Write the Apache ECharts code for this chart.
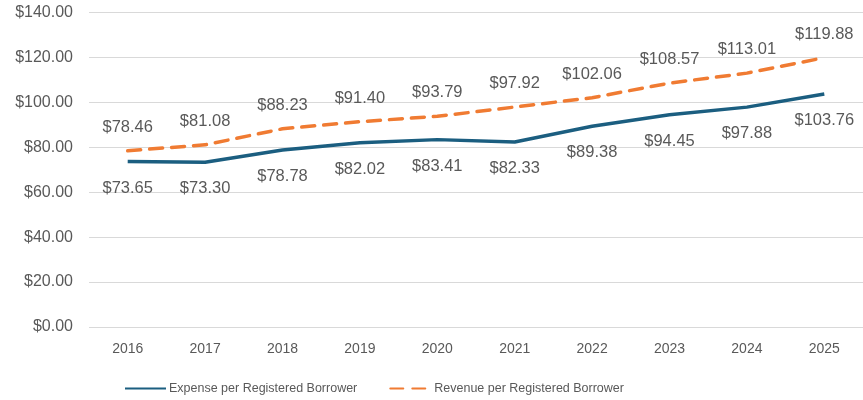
<!DOCTYPE html>
<html><head><meta charset="utf-8">
<script src="https://cdn.jsdelivr.net/npm/echarts@6/dist/echarts.min.js"></script>
<style>html,body{margin:0;padding:0;background:#fff}#c{width:863px;height:400px}</style>
</head><body><div id="c"></div>
<script>
const categories = ['2016','2017','2018','2019','2020','2021','2022','2023','2024','2025'];
const expense = [73.65,73.30,78.78,82.02,83.41,82.33,89.38,94.45,97.88,103.76];
const revenue = [78.46,81.08,88.23,91.40,93.79,97.92,102.06,108.57,113.01,119.88];
const seriesNames = ['Expense per Registered Borrower','Revenue per Registered Borrower'];
const font = '"Liberation Sans", Arial, sans-serif';
const txt = '#595959';
const chart = echarts.init(document.getElementById('c'), null, {renderer:'canvas'});
const fmt = v => '$' + Number(v).toFixed(2);
chart.setOption({
  animation:false,
  grid:{left:89, top:12.5, width:777, height:314.5, containLabel:false},
  legend:{top:377, left:119, itemGap:32, itemWidth:41, itemHeight:10,
    itemStyle:{opacity:0},
    textStyle:{color:txt, fontFamily:font, fontSize:12.5, padding:[0,0,0,-2]},
    data:seriesNames},
  xAxis:{type:'category', data:categories, boundaryGap:true,
    axisLine:{show:false}, axisTick:{show:false},
    axisLabel:{color:txt, fontFamily:font, fontSize:14, margin:15}},
  yAxis:{type:'value', min:0, max:140, interval:20,
    axisLabel:{color:txt, fontFamily:font, fontSize:16, formatter:fmt, margin:16},
    splitLine:{lineStyle:{color:'#d9d9d9', width:1}}},
  series:[
    {name:seriesNames[0], type:'line', data:expense, symbol:'circle', symbolSize:0, showSymbol:true,
     lineStyle:{color:'#1b5e80', width:3.5}, itemStyle:{color:'#1b5e80'},
     label:{show:true, position:'bottom', distance:18, formatter:p=>fmt(p.value), color:txt, fontFamily:font, fontSize:16.5}},
    {name:seriesNames[1], type:'line', data:revenue, symbol:'circle', symbolSize:0, showSymbol:true,
     lineStyle:{color:'#f07b32', width:3.5, type:[13,9], cap:'round'}, itemStyle:{color:'#f07b32'},
     label:{show:true, position:'top', distance:15, formatter:p=>fmt(p.value), color:txt, fontFamily:font, fontSize:16.5}}
  ]
});
</script></body></html>
